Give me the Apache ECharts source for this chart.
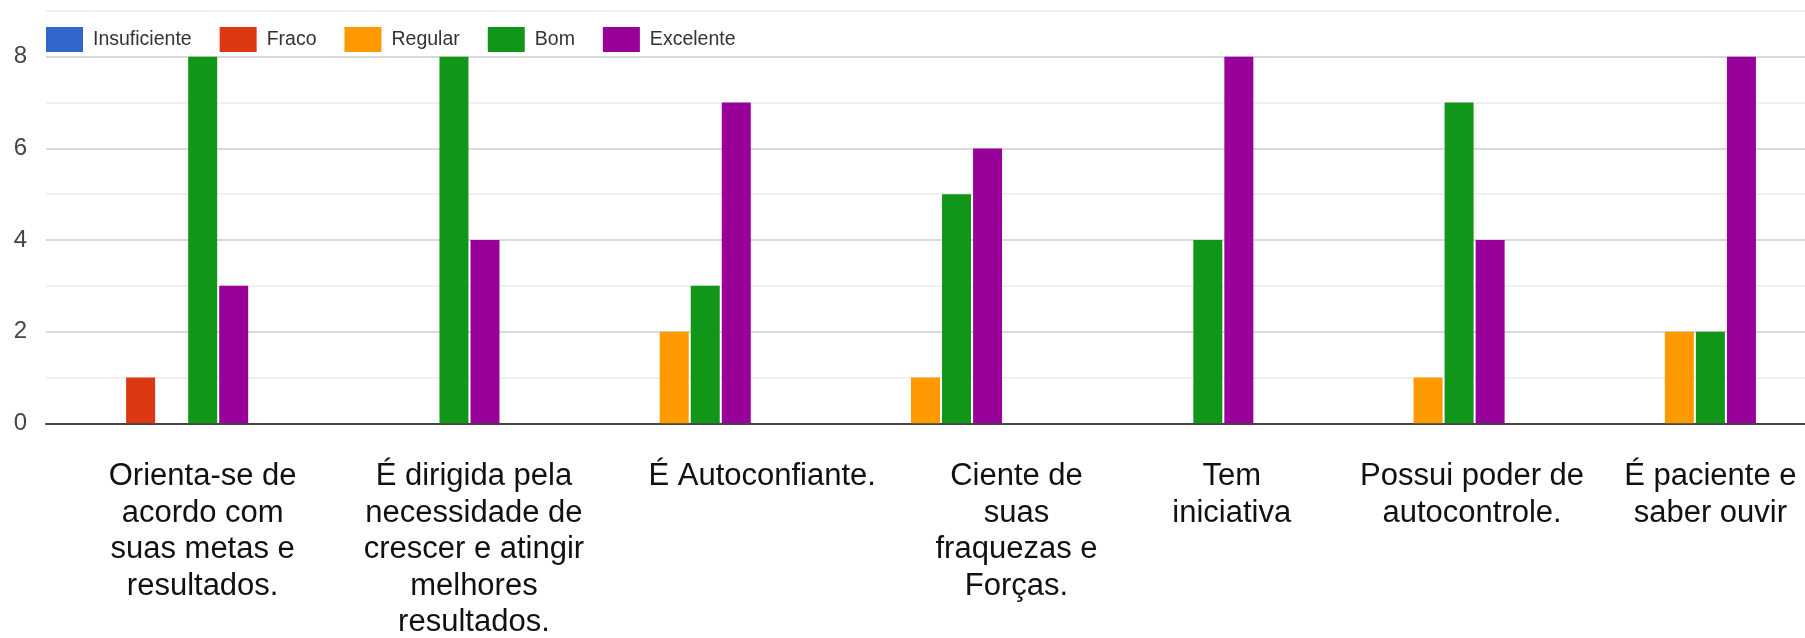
<!DOCTYPE html>
<html>
<head>
<meta charset="utf-8">
<script src="https://cdn.jsdelivr.net/npm/echarts@6/dist/echarts.min.js"></script>
<style>
  html, body { margin: 0; padding: 0; background: #fff; }
  #chart { width: 1805px; height: 638px; }
</style>
</head>
<body>
<div id="chart"></div>
<script>
// Survey answers: one group of bars per statement, one bar per rating.
const categories = [
  'Orienta-se de\nacordo com\nsuas metas e\nresultados.',
  'É dirigida pela\nnecessidade de\ncrescer e atingir\nmelhores\nresultados.',
  'É Autoconfiante.',
  'Ciente de\nsuas\nfraquezas e\nForças.',
  'Tem\niniciativa',
  'Possui poder de\nautocontrole.',
  'É paciente e\nsaber ouvir'
];
const ratings = ['Insuficiente', 'Fraco', 'Regular', 'Bom', 'Excelente'];
const insuficiente = [0, 0, 0, 0, 0, 0, 0];
const fraco        = [1, 0, 0, 0, 0, 0, 0];
const regular      = [0, 0, 2, 1, 0, 1, 2];
const bom          = [8, 8, 3, 5, 4, 7, 2];
const excelente    = [3, 4, 7, 6, 8, 4, 8];
const yTickLabels  = ['0', '', '2', '', '4', '', '6', '', '8', ''];

// Layout / style settings
const colors = ['#3366cc', '#dc3912', '#ff9900', '#109618', '#990099'];
const sans = '"Liberation Sans", Arial, sans-serif';
// horizontal nudge of each category label, in px
const labelShift = [31, 51, 88, 91, 55, 44, 31];

const rich = {};
labelShift.forEach((s, i) => {
  rich['c' + i] = {
    fontFamily: sans,
    fontSize: 31,
    lineHeight: 36.5,
    color: '#111',
    padding: [0, 0, 0, 2 * s]
  };
});

const seriesValues = [insuficiente, fraco, regular, bom, excelente];

const chart = echarts.init(document.getElementById('chart'), null, { renderer: 'canvas' });
chart.setOption({
  animation: false,
  color: colors,
  legend: {
    data: ratings,
    left: 46,
    top: 27,
    padding: 0,
    icon: 'rect',
    itemWidth: 37,
    itemHeight: 25,
    itemGap: 28,
    textStyle: {
      fontFamily: sans,
      fontSize: 19.5,
      color: '#333',
      padding: [0, 0, 0, 5]
    }
  },
  grid: { left: 46, right: 0, top: 11, bottom: 208, containLabel: false },
  xAxis: {
    type: 'category',
    data: categories,
    axisLine: { lineStyle: { color: '#444', width: 2 } },
    axisTick: { show: false },
    axisLabel: {
      interval: 0,
      hideOverlap: false,
      margin: 35,
      formatter: (value, idx) => value.split('\n').map(l => '{c' + idx + '|' + l + '}').join('\n'),
      rich: rich
    }
  },
  yAxis: {
    type: 'value',
    min: 0,
    max: 9,
    interval: 1,
    axisLine: { show: false },
    axisTick: { show: false },
    axisLabel: {
      margin: 19,
      fontFamily: sans,
      fontSize: 24,
      color: '#444',
      formatter: (v) => yTickLabels[Math.round(v)]
    },
    splitLine: {
      show: true,
      showMinLine: true,
      showMaxLine: true,
      lineStyle: { color: ['#cccccc', '#ebebeb'], width: 1.5 }
    }
  },
  series: ratings.map((name, i) => ({
    name: name,
    type: 'bar',
    data: seriesValues[i],
    barWidth: 29,
    barGap: '7%'
  }))
});
</script>
</body>
</html>
